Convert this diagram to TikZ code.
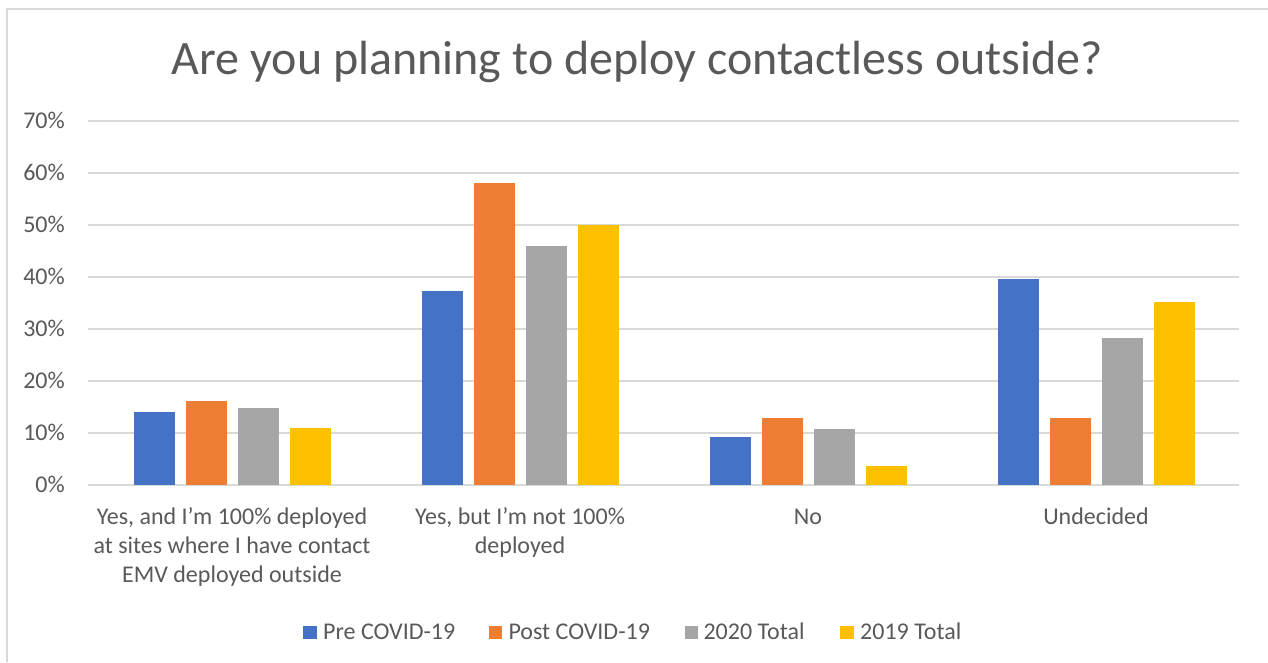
\documentclass[tikz,border=0pt]{standalone}
\usepackage{fontspec}
\setmainfont{Carlito}
\definecolor{txt}{HTML}{595959}
\definecolor{gridc}{HTML}{D9D9D9}
\definecolor{seriesA}{HTML}{4472C4}
\definecolor{seriesB}{HTML}{ED7D31}
\definecolor{seriesC}{HTML}{A5A5A5}
\definecolor{seriesD}{HTML}{FFC000}
\tikzset{
  frame/.style={draw=gridc, line width=1.6pt},
  gridline/.style={draw=gridc, line width=1.6pt},
  ticklabel/.style={text=txt, font=\fontsize{24}{29}\selectfont, inner sep=0pt, anchor=east},
  catlabel/.style={text=txt, font=\fontsize{24}{29}\selectfont, inner sep=0pt, anchor=north, align=center},
  legendtext/.style={text=txt, font=\fontsize{24}{29}\selectfont, inner sep=0pt, anchor=base west},
  legendkey/.style={minimum width=13.5pt, minimum height=13.5pt, inner sep=0pt, anchor=south west},
  titletext/.style={text=txt, font=\fontsize{48}{58}\selectfont, inner sep=0pt, anchor=base}
}
\begin{document}
\begin{tikzpicture}[x=1pt, y=-1pt]
\useasboundingbox (0,0) rectangle (1268,662);
\fill[white] (0,0) rectangle (1268,662);
% chart area frame (left and top edges)
\draw[frame] (7,662) -- (7,9) -- (1268,9);

% title
\node[titletext] (title) at (637.5,74) {Are you planning to deploy contactless outside?};

% horizontal grid and value axis labels
\foreach \k in {0,...,7} {
  \draw[gridline] (88,{484.7-52*\k}) -- (1239,{484.7-52*\k});
}
\node[ticklabel] (t0) at (65,484.7) {0\%};
\foreach \k in {1,...,7} {
  \node[ticklabel] (t\k) at (65,{484.7-52*\k}) {\k0\%};
}

% clustered bars: category centre / four series values (percent)
\foreach \c/\a/\b/\g/\y in {232/13.9/16.1/14.8/11.0, 520/37.2/58.1/45.9/50.0, 808/9.1/12.8/10.7/3.6, 1096/39.5/12.8/28.3/35.1} {
  \fill[seriesA] ({\c-98.5},484.7) rectangle ({\c-57.5},{484.7-5.2*\a});
  \fill[seriesB] ({\c-46.5},484.7) rectangle ({\c-5.5},{484.7-5.2*\b});
  \fill[seriesC] ({\c+5.5},484.7) rectangle ({\c+46.5},{484.7-5.2*\g});
  \fill[seriesD] ({\c+57.5},484.7) rectangle ({\c+98.5},{484.7-5.2*\y});
}

% category labels
\node[catlabel] (c1) at (232,503.7) {\strut Yes, and I’m 100\% deployed\\at sites where I have contact\\EMV deployed outside};
\node[catlabel] (c2) at (520,503.7) {\strut Yes, but I’m not 100\%\\deployed};
\node[catlabel] (c3) at (808,503.7) {\strut No};
\node[catlabel] (c4) at (1096,503.7) {\strut Undecided};

% legend
\node[legendkey, fill=seriesA] (k1) at (303,639.5) {};
\node[legendtext] (l1) at (323,639.3) {Pre COVID-19};
\node[legendkey, fill=seriesB] (k2) at (488.3,639.5) {};
\node[legendtext] (l2) at (508.3,639.3) {Post COVID-19};
\node[legendkey, fill=seriesC] (k3) at (684.3,639.5) {};
\node[legendtext] (l3) at (703.3,639.3) {2020 Total};
\node[legendkey, fill=seriesD] (k4) at (840,639.5) {};
\node[legendtext] (l4) at (860,639.3) {2019 Total};
\end{tikzpicture}
\end{document}
